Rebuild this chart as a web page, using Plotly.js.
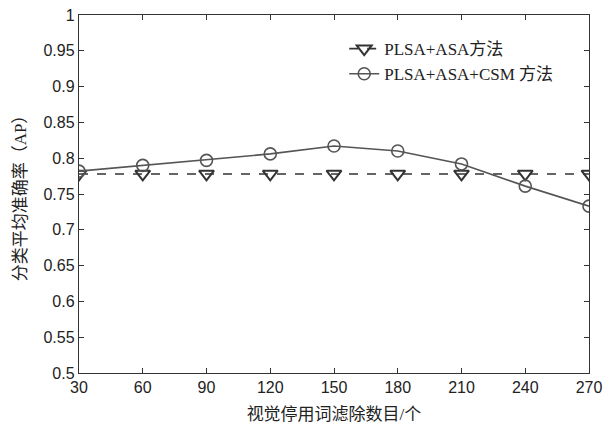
<!DOCTYPE html>
<html><head><meta charset="utf-8">
<script src="https://cdn.plot.ly/plotly-3.0.1.min.js"></script>
<style>html,body{margin:0;padding:0;background:#fff}#chart{width:603px;height:424px}</style>
</head><body><div id="chart"></div>
<script>
const xVals = [30, 60, 90, 120, 150, 180, 210, 240, 270];
const plsaAsa = [0.778, 0.778, 0.778, 0.778, 0.778, 0.778, 0.778, 0.778, 0.778];
const plsaAsaCsm = [0.782, 0.790, 0.797, 0.806, 0.817, 0.810, 0.792, 0.761, 0.733];
const seriesNames = ['PLSA+ASA方法', 'PLSA+ASA+CSM 方法'];
const xTitle = '视觉停用词滤除数目/个';
const yTitle = '分类平均准确率（AP）';

const serif = '"Liberation Serif", "Noto Sans CJK SC", serif';
const sans = '"Liberation Sans", Arial, sans-serif';

const traces = [
  {x: xVals, y: plsaAsa, name: seriesNames[0], mode: 'lines+markers',
   line: {color: '#333', width: 1.6, dash: 'dash'},
   marker: {symbol: 'triangle-down-open', size: 13, color: '#333', line: {width: 2, color: '#333'}}},
  {x: xVals, y: plsaAsaCsm, name: seriesNames[1], mode: 'lines+markers',
   line: {color: '#555', width: 1.6},
   marker: {symbol: 'circle-open', size: 12, color: '#555', line: {width: 1.6, color: '#555'}}}
];

const axisCommon = {
  showgrid: false, zeroline: false, showline: true, linecolor: '#333', linewidth: 1.2,
  mirror: 'ticks', ticks: 'inside', ticklen: 5, tickcolor: '#333', tickwidth: 1,
  tickfont: {family: sans, size: 16, color: '#222'}
};

const layout = {
  width: 603, height: 424,
  margin: {l: 79, r: 14, t: 15, b: 51},
  paper_bgcolor: '#fff', plot_bgcolor: '#fff',
  showlegend: true,
  legend: {x: 0.52, y: 0.955, xanchor: 'left', yanchor: 'top', bgcolor: 'rgba(0,0,0,0)',
           font: {family: serif, size: 17, color: '#222'}, tracegroupgap: 0, itemwidth: 30},
  xaxis: Object.assign({}, axisCommon, {range: [30, 270], tickvals: xVals,
    title: {text: xTitle, font: {family: serif, size: 17, color: '#222'}, standoff: 12}}),
  yaxis: Object.assign({}, axisCommon, {range: [0.5, 1],
    tickvals: [0.5,0.55,0.6,0.65,0.7,0.75,0.8,0.85,0.9,0.95,1],
    ticktext: ['0.5','0.55','0.6','0.65','0.7','0.75','0.8','0.85','0.9','0.95','1'],
    title: {text: yTitle, font: {family: serif, size: 17, color: '#222'}, standoff: 12}})
};
Plotly.newPlot('chart', traces, layout, {displayModeBar: false, staticPlot: true});
</script></body></html>
